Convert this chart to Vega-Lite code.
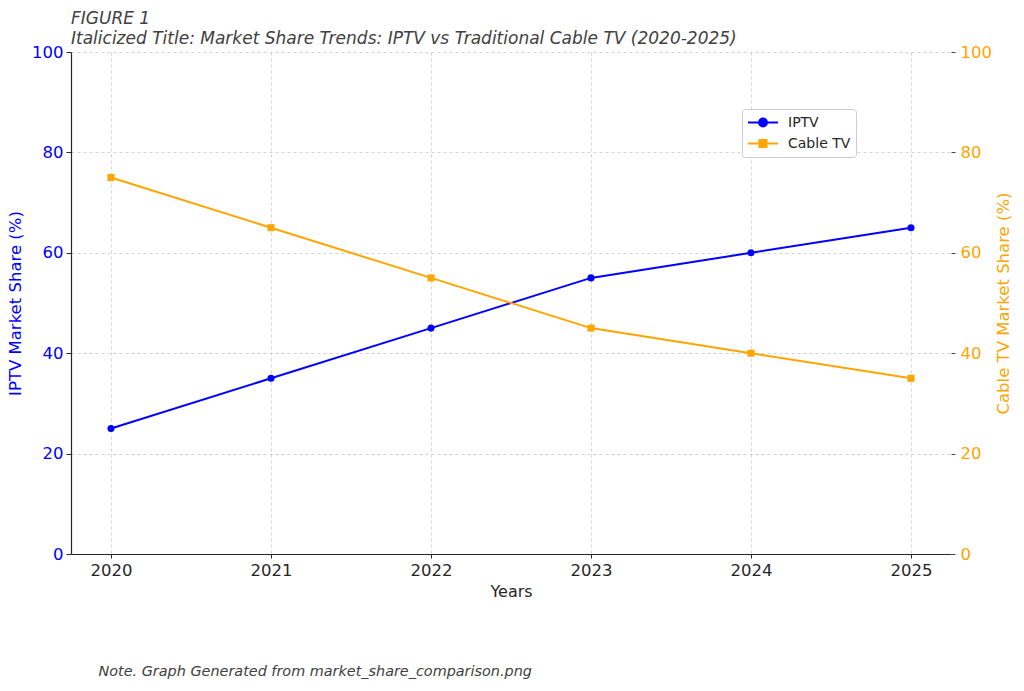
{
  "$schema": "https://vega.github.io/schema/vega-lite/v6.json",
  "width": 880,
  "height": 502,
  "autosize": {"type": "none"},
  "padding": {"left": 71, "top": 52, "right": 73, "bottom": 137},
  "background": "white",
  "config": {"view": {"stroke": null}, "font": "DejaVu Sans"},
  "title": {
    "text": "FIGURE 1",
    "subtitle": "Italicized Title: Market Share Trends: IPTV vs Traditional Cable TV (2020-2025)",
    "anchor": "start",
    "frame": "group",
    "font": "DejaVu Sans",
    "fontStyle": "italic",
    "fontWeight": "normal",
    "fontSize": 17,
    "color": "#404040",
    "subtitleFont": "DejaVu Sans",
    "subtitleFontStyle": "italic",
    "subtitleFontSize": 17,
    "subtitleColor": "#404040",
    "subtitlePadding": 3,
    "offset": -4
  },
  "data": {
    "values": [
      {"year": 2020, "series": "IPTV", "share": 25},
      {"year": 2021, "series": "IPTV", "share": 35},
      {"year": 2022, "series": "IPTV", "share": 45},
      {"year": 2023, "series": "IPTV", "share": 55},
      {"year": 2024, "series": "IPTV", "share": 60},
      {"year": 2025, "series": "IPTV", "share": 65},
      {"year": 2020, "series": "Cable TV", "share": 75},
      {"year": 2021, "series": "Cable TV", "share": 65},
      {"year": 2022, "series": "Cable TV", "share": 55},
      {"year": 2023, "series": "Cable TV", "share": 45},
      {"year": 2024, "series": "Cable TV", "share": 40},
      {"year": 2025, "series": "Cable TV", "share": 35}
    ]
  },
  "layer": [
    {
      "transform": [{"filter": "datum.series === 'IPTV'"}],
      "encoding": {
        "x": {
          "field": "year", "type": "quantitative",
          "scale": {"domain": [2019.75, 2025.25], "nice": false, "zero": false},
          "axis": {
            "orient": "bottom",
            "values": [2020, 2021, 2022, 2023, 2024, 2025],
            "format": "d",
            "title": "Years",
            "grid": true, "gridDash": [3, 3], "gridColor": "#c8c8c8", "gridWidth": 0.8,
            "domainColor": "#262626", "domainWidth": 1.2,
            "tickColor": "#262626", "tickSize": 4,
            "labelFontSize": 16.5, "labelColor": "#262626", "labelPadding": 4,
            "titleFontSize": 16, "titleFontWeight": "normal", "titleColor": "#262626", "titlePadding": 5
          }
        },
        "y": {
          "field": "share", "type": "quantitative",
          "scale": {"domain": [0, 100], "nice": false},
          "axis": {
            "orient": "left",
            "values": [0, 20, 40, 60, 80, 100],
            "title": "IPTV Market Share (%)",
            "grid": true, "gridDash": [3, 3], "gridColor": "#c8c8c8", "gridWidth": 0.8,
            "domainColor": "#262626", "domainWidth": 1.2,
            "tickColor": "#262626", "tickSize": 5,
            "labelFontSize": 16.5, "labelColor": "blue", "labelPadding": 3,
            "titleFontSize": 16.5, "titleFontWeight": "normal", "titleColor": "blue", "titlePadding": 8
          }
        },
        "color": {
          "field": "series", "type": "nominal",
          "scale": {"domain": ["IPTV", "Cable TV"], "range": ["blue", "orange"]},
          "legend": {
            "title": null,
            "orient": "none",
            "legendX": 671,
            "legendY": 57,
            "padding": 5,
            "strokeColor": "#cccccc",
            "fillColor": "white",
            "cornerRadius": 3,
            "labelFontSize": 14,
            "labelColor": "#262626",
            "labelOffset": 24,
            "symbolSize": 225,
            "rowPadding": 4,
            "encode": {
              "symbols": {
                "update": {
                  "shape": {"signal": "datum.value === 'IPTV' ? 'M-1,0H3M1.53,0A0.53,0.53,0,1,1,0.47,0A0.53,0.53,0,1,1,1.53,0Z' : 'M-1,0H3M0.53,-0.47H1.47V0.47H0.53Z'"},
                  "fill": {"scale": "color", "field": "value"},
                  "stroke": {"scale": "color", "field": "value"},
                  "strokeWidth": {"value": 2},
                  "opacity": {"value": 1}
                }
              }
            }
          }
        }
      },
      "layer": [
        {"mark": {"type": "line", "strokeWidth": 2}},
        {"mark": {"type": "point", "filled": true, "shape": "circle", "size": 50, "opacity": 1}}
      ]
    },
    {
      "transform": [{"filter": "datum.series === 'Cable TV'"}],
      "encoding": {
        "x": {
          "field": "year", "type": "quantitative",
          "axis": {
            "orient": "bottom",
            "labels": false, "ticks": false, "domain": false, "grid": false,
            "title": "Note. Graph Generated from market_share_comparison.png",
            "titleFontStyle": "italic", "titleFontSize": 14.4, "titleFontWeight": "normal",
            "titleColor": "#404040", "titleAlign": "left", "titleAnchor": "start",
            "titleBaseline": "top", "titleX": 27, "titleY": 110
          }
        },
        "y": {
          "field": "share", "type": "quantitative",
          "scale": {"domain": [0, 100], "nice": false},
          "axis": {
            "orient": "right",
            "values": [0, 20, 40, 60, 80, 100],
            "title": "Cable TV Market Share (%)",
            "titleAngle": 270,
            "grid": false, "domain": false,
            "tickColor": "#444444", "tickSize": 4,
            "labelFontSize": 16.5, "labelColor": "orange", "labelPadding": 5,
            "titleFontSize": 16.5, "titleFontWeight": "normal", "titleColor": "orange", "titlePadding": 20
          }
        },
        "color": {"field": "series", "type": "nominal"}
      },
      "layer": [
        {"mark": {"type": "line", "strokeWidth": 2}},
        {"mark": {"type": "point", "filled": true, "shape": "square", "size": 50, "opacity": 1}}
      ]
    }
  ],
  "resolve": {"scale": {"y": "independent"}, "axis": {"x": "independent"}}
}
